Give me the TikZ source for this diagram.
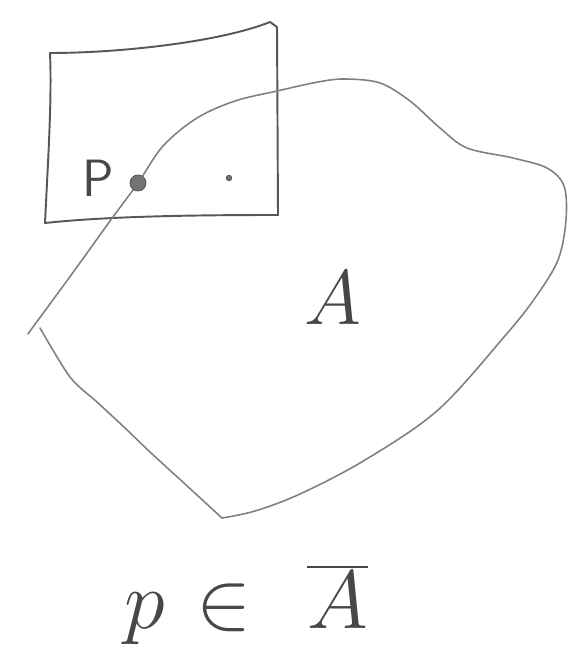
\documentclass[tikz,border=0pt]{standalone}

\begin{document}
\begin{tikzpicture}[
  x=0.2mm, y=-0.2mm,
  pencil/.style={draw=black!66,line width=1.1pt,line cap=round,line join=round},
  edge/.style={draw=black!50,line width=0.9pt,line cap=round,line join=round},
  dot/.style={circle,fill=black!55,draw=black!70,inner sep=0pt},
  lbl/.style={text=black!72,inner sep=0pt,font=\Huge,transform shape}
]
  \useasboundingbox (0,0) rectangle (572,652);
  % the square round p
  \draw[pencil] (45,223) .. controls (48,160) and (52,100) .. (50,53)
    .. controls (120,53) and (220,42) .. (270,22) -- (277,27) -- (278,215)
    .. controls (200,215) and (110,216) .. cycle;
  % the set A
  \draw[edge] plot[smooth,tension=.55] coordinates {(33,327) (58,293) (82,260)
    (110,221) (138,183) (163,146) (197,118) (235,101) (277,91) (318,82)
    (345,79) (380,83) (410,101) (440,128) (467,148) (513,158) (547,168)
    (564,186) (566,220) (558,260) (535,298) (504,337) (438,410) (365,460)
    (300,494) (255,511) (222,518)};
  \draw[edge] plot[smooth,tension=.5] coordinates {(40,328) (70,377) (97,402)
    (125,428) (150,452) (185,484) (222,518)};
  \draw[edge] (33,327) -- (28,334);
  \node[dot,minimum size=3.2mm] (p) at (138,183) {};
  \node[dot,minimum size=1.1mm] (q) at (229,178) {};
  \node[lbl,scale=1.2] (plabel) at (98,178) {\sffamily P};
  \node[lbl,scale=1.77] (setA) at (333,298) {$A$};
  \node[lbl,scale=1.89,anchor=base] (claim) at (246,628)
    {$p\hspace{0.1em}\in\hspace{0.4em}\overline{A}$};
\end{tikzpicture}
\end{document}
